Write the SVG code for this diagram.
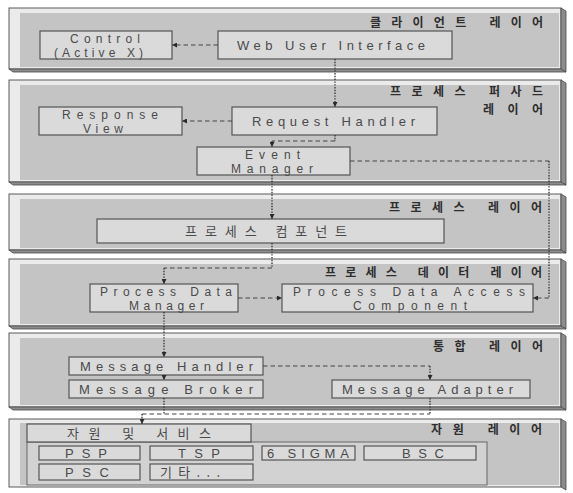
<svg xmlns="http://www.w3.org/2000/svg" width="573" height="493" viewBox="0 0 573 493">
  <style>
    .frame { fill: #ebebeb; stroke: #5a5a5a; stroke-width: 1; }
    .slab { fill: #c4c4c4; }
    .side { fill: #8c8c8c; stroke: #4a4a4a; stroke-width: 0.8; }
    .box { fill: #dadada; stroke: #555; stroke-width: 1.2; }
    .panel { fill: #d2d2d2; stroke: #666; stroke-width: 1; }
    .lbl { font-family: "Liberation Sans", Arial, sans-serif; font-size: 13px; fill: #4a4a4a; }
    .two { font-size: 12px; }
    .klbl { font-family: "Noto Sans CJK KR", "Noto Sans", sans-serif; font-size: 13px; fill: #4a4a4a; }
    .title { font-family: "Noto Sans CJK KR", "Noto Sans", sans-serif; font-size: 12px; font-weight: bold; fill: #2e2e2e; }
    .dot { fill: none; stroke: #333; stroke-width: 1.3; stroke-dasharray: 1.4 1.4; }
    .dash { fill: none; stroke: #444; stroke-width: 1.1; stroke-dasharray: 4.5 3; }
  </style>
  <defs>
    <marker id="arr" viewBox="0 0 10 10" refX="10" refY="5" markerWidth="5" markerHeight="5" orient="auto" markerUnits="userSpaceOnUse">
      <path d="M0,0 L10,5 L0,10 z" fill="#2a2a2a"/>
    </marker>
  </defs>
  <rect width="573" height="493" fill="#ffffff"/>

  <!-- client layer -->
  <g id="layer-client">
    <rect class="frame" x="9" y="8" width="552" height="61"/>
    <rect class="slab" x="20" y="13" width="539" height="54"/>
    <path class="side" d="M561,8 L566,11 L566,72 L561,69 z"/>
    <path class="side" d="M9,69 L561,69 L566,72 L13,72 z"/>
    <text class="title" x="370" y="27" textLength="173">클라이언트 레이어</text>
  </g>
  <g id="control">
    <rect class="box" x="40" y="31" width="132" height="28"/>
    <text class="lbl two" x="70" y="43" textLength="70">Control</text>
    <text class="lbl two" x="54" y="56.5" textLength="89">(Active X)</text>
  </g>
  <g id="web-ui">
    <rect class="box" x="218" y="31" width="234" height="28"/>
    <text class="lbl" x="237" y="49.5" textLength="188">Web User Interface</text>
  </g>

  <!-- process facade layer -->
  <g id="layer-facade">
    <rect class="frame" x="9" y="80" width="552" height="102"/>
    <rect class="slab" x="20" y="85" width="539" height="95"/>
    <path class="side" d="M561,80 L566,83 L566,185 L561,182 z"/>
    <path class="side" d="M9,182 L561,182 L566,185 L13,185 z"/>
    <text class="title" x="390" y="96" textLength="153">프로세스 퍼사드</text>
    <text class="title" x="483" y="114" textLength="60">레이어</text>
  </g>
  <g id="response-view">
    <rect class="box" x="39" y="107" width="143" height="28"/>
    <text class="lbl two" x="62" y="119" textLength="96">Response</text>
    <text class="lbl two" x="83" y="132.5" textLength="40">View</text>
  </g>
  <g id="request-handler">
    <rect class="box" x="232" y="107" width="205" height="28"/>
    <text class="lbl" x="252" y="125.5" textLength="163">Request Handler</text>
  </g>
  <g id="event-manager">
    <rect class="box" x="197" y="147" width="153" height="28"/>
    <text class="lbl two" x="245" y="159" textLength="55">Event</text>
    <text class="lbl two" x="231" y="172.5" textLength="82">Manager</text>
  </g>

  <!-- process layer -->
  <g id="layer-process">
    <rect class="frame" x="9" y="194" width="552" height="56"/>
    <rect class="slab" x="20" y="199" width="539" height="49"/>
    <path class="side" d="M561,194 L566,197 L566,253 L561,250 z"/>
    <path class="side" d="M9,250 L561,250 L566,253 L13,253 z"/>
    <text class="title" x="389" y="212" textLength="153">프로세스 레이어</text>
  </g>
  <g id="process-component">
    <rect class="box" x="97" y="219" width="347" height="24"/>
    <text class="klbl" x="185" y="235.5" textLength="162">프로세스 컴포넌트</text>
  </g>

  <!-- process data layer -->
  <g id="layer-data">
    <rect class="frame" x="9" y="259" width="552" height="67"/>
    <rect class="slab" x="20" y="264" width="539" height="60"/>
    <path class="side" d="M561,259 L566,262 L566,329 L561,326 z"/>
    <path class="side" d="M9,326 L561,326 L566,329 L13,329 z"/>
    <text class="title" x="325" y="277" textLength="217">프로세스 데이터 레이어</text>
  </g>
  <g id="process-data-manager">
    <rect class="box" x="90" y="284" width="148" height="28"/>
    <text class="lbl two" x="100" y="296" textLength="132">Process Data</text>
    <text class="lbl two" x="129" y="309.5" textLength="75">Manager</text>
  </g>
  <g id="process-data-access">
    <rect class="box" x="282" y="284" width="251" height="28"/>
    <text class="lbl two" x="293" y="296" textLength="232">Process Data Access</text>
    <text class="lbl two" x="353" y="309.5" textLength="114">Component</text>
  </g>

  <!-- integration layer -->
  <g id="layer-integration">
    <rect class="frame" x="9" y="333" width="552" height="74"/>
    <rect class="slab" x="20" y="338" width="539" height="67"/>
    <path class="side" d="M561,333 L566,336 L566,410 L561,407 z"/>
    <path class="side" d="M9,407 L561,407 L566,410 L13,410 z"/>
    <text class="title" x="433" y="351" textLength="110">통합 레이어</text>
  </g>
  <g id="message-handler">
    <rect class="box" x="69" y="357" width="194" height="18"/>
    <text class="lbl" x="80" y="370.5" textLength="173">Message Handler</text>
  </g>
  <g id="message-broker">
    <rect class="box" x="69" y="380" width="194" height="18"/>
    <text class="lbl" x="79" y="393.5" textLength="174">Message Broker</text>
  </g>
  <g id="message-adapter">
    <rect class="box" x="332" y="380" width="198" height="18"/>
    <text class="lbl" x="342" y="393.5" textLength="171">Message Adapter</text>
  </g>

  <!-- resource layer -->
  <g id="layer-resource">
    <rect class="frame" x="9" y="419" width="552" height="68"/>
    <rect class="slab" x="20" y="423" width="539" height="62"/>
    <path class="side" d="M561,419 L566,422 L566,490 L561,487 z"/>
    <text class="title" x="431" y="434" textLength="111">자원 레이어</text>
  </g>
  <g id="resources-services">
    <rect class="panel" x="27" y="442" width="460" height="43"/>
    <rect class="box" x="27" y="424" width="224" height="18"/>
    <text class="klbl" x="67" y="437.5" textLength="144">자원 및 서비스</text>
  </g>
  <g id="psp">
    <rect class="box" x="39" y="446" width="101" height="14"/>
    <text class="lbl" x="65" y="457.5" textLength="42">PSP</text>
  </g>
  <g id="tsp">
    <rect class="box" x="150" y="446" width="103" height="14"/>
    <text class="lbl" x="178" y="457.5" textLength="42">TSP</text>
  </g>
  <g id="six-sigma">
    <rect class="box" x="262" y="446" width="93" height="14"/>
    <text class="lbl" x="267" y="457.5" textLength="82">6 SIGMA</text>
  </g>
  <g id="bsc">
    <rect class="box" x="364" y="446" width="112" height="14"/>
    <text class="lbl" x="402" y="457.5" textLength="42">BSC</text>
  </g>
  <g id="psc">
    <rect class="box" x="39" y="464" width="101" height="16"/>
    <text class="lbl" x="65" y="476.5" textLength="44">PSC</text>
  </g>
  <g id="etc">
    <rect class="box" x="150" y="464" width="103" height="16"/>
    <text class="klbl" x="160" y="476.5" textLength="60">기타...</text>
  </g>

  <!-- connectors -->
  <g id="connectors">
    <path class="dash" d="M218,45 L172,45" marker-end="url(#arr)"/>
    <path class="dot" d="M335,59 L335,107" marker-end="url(#arr)"/>
    <path class="dash" d="M232,121 L182,121" marker-end="url(#arr)"/>
    <path class="dot" d="M335,135 L335,141"/>
    <path class="dash" d="M335,141 L272,141"/>
    <path class="dot" d="M272,141 L272,147" marker-end="url(#arr)"/>
    <path class="dot" d="M272,175 L272,219" marker-end="url(#arr)"/>
    <path class="dash" d="M350,161 L549,161"/>
    <path class="dot" d="M549,161 L549,298"/>
    <path class="dash" d="M549,298 L533,298" marker-end="url(#arr)"/>
    <path class="dot" d="M272,243 L272,268"/>
    <path class="dash" d="M272,268 L164,268"/>
    <path class="dot" d="M164,268 L164,284" marker-end="url(#arr)"/>
    <path class="dash" d="M238,298 L282,298" marker-end="url(#arr)"/>
    <path class="dot" d="M164,312 L164,357" marker-end="url(#arr)"/>
    <path class="dot" d="M164,375 L164,380" marker-end="url(#arr)"/>
    <path class="dash" d="M263,366 L430,366"/>
    <path class="dot" d="M430,366 L430,380" marker-end="url(#arr)"/>
    <path class="dot" d="M164,398 L164,414"/>
    <path class="dot" d="M430,398 L430,414"/>
    <path class="dash" d="M142,414 L430,414"/>
    <path class="dot" d="M142,414 L142,424" marker-end="url(#arr)"/>
  </g>
</svg>
